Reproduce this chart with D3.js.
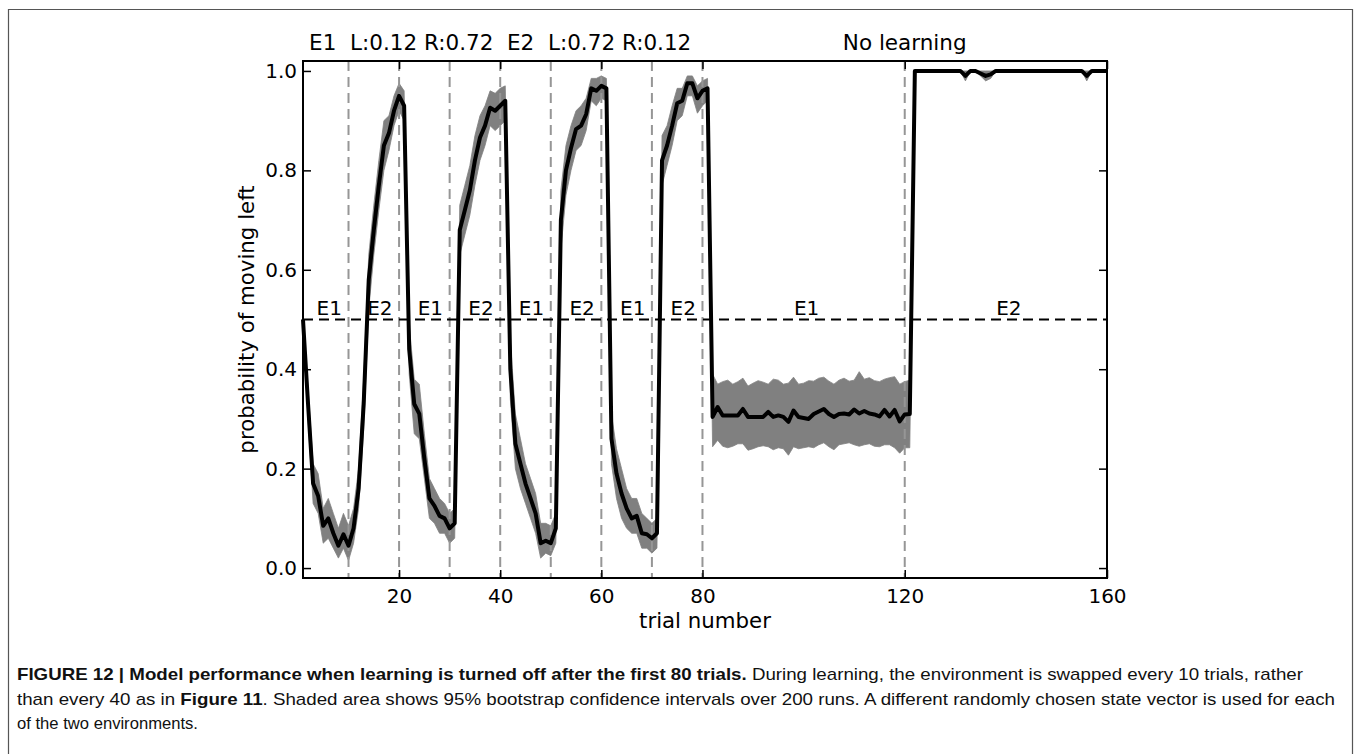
<!DOCTYPE html>
<html>
<head>
<meta charset="utf-8">
<script src="https://cdn.jsdelivr.net/npm/d3@7"></script>
<style>
  body { margin: 0; background: #fff; }
</style>
</head>
<body>
<svg width="1354" height="754"></svg>
<script>
// mean probability of moving left, trials 1..160
var meanP = [
  0.50, 0.33, 0.17, 0.145, 0.085, 0.10, 0.07, 0.045, 0.068, 0.045,
  0.08, 0.16, 0.33, 0.58, 0.68, 0.77, 0.85, 0.875, 0.92, 0.95,
  0.93, 0.44, 0.33, 0.31, 0.22, 0.14, 0.125, 0.105, 0.10, 0.08,
  0.09, 0.68, 0.72, 0.76, 0.82, 0.866, 0.89, 0.926, 0.92, 0.93,
  0.94, 0.40, 0.25, 0.21, 0.17, 0.14, 0.11, 0.05, 0.055, 0.05,
  0.08, 0.70, 0.80, 0.845, 0.883, 0.89, 0.913, 0.965, 0.96, 0.97,
  0.965, 0.26, 0.19, 0.15, 0.12, 0.10, 0.105, 0.07, 0.068, 0.06,
  0.07, 0.82, 0.85, 0.89, 0.935, 0.94, 0.975, 0.975, 0.945, 0.96,
  0.965, 0.304, 0.324, 0.307, 0.307, 0.307, 0.307, 0.32, 0.304, 0.304,
  0.304, 0.304, 0.314, 0.304, 0.307, 0.304, 0.294, 0.317, 0.304, 0.302,
  0.300, 0.310, 0.315, 0.320, 0.310, 0.304, 0.310, 0.311, 0.309, 0.319,
  0.311, 0.316, 0.311, 0.309, 0.305, 0.318, 0.305, 0.318, 0.295, 0.309,
  0.310, 1, 1, 1, 1, 1, 1, 1, 1, 1,
  1, 0.99, 1, 1, 0.995, 0.99, 0.993, 1, 1, 1,
  1, 1, 1, 1, 1, 1, 1, 1, 1, 1,
  1, 1, 1, 1, 1, 0.99, 1, 1, 1, 1
];

// lower edge of the 95% bootstrap interval
var loP = [
  0.49, 0.30, 0.13, 0.11, 0.05, 0.06, 0.04, 0.02, 0.04, 0.015,
  0.05, 0.12, 0.28, 0.52, 0.63, 0.72, 0.80, 0.84, 0.89, 0.92,
  0.90, 0.39, 0.27, 0.26, 0.18, 0.10, 0.09, 0.07, 0.07, 0.05,
  0.06, 0.63, 0.67, 0.71, 0.77, 0.82, 0.85, 0.89, 0.88, 0.89,
  0.90, 0.34, 0.20, 0.16, 0.13, 0.10, 0.07, 0.02, 0.03, 0.025,
  0.05, 0.64, 0.75, 0.80, 0.84, 0.85, 0.88, 0.94, 0.93, 0.945,
  0.94, 0.21, 0.14, 0.10, 0.08, 0.07, 0.07, 0.04, 0.04, 0.03,
  0.04, 0.77, 0.81, 0.85, 0.90, 0.91, 0.95, 0.95, 0.915, 0.93,
  0.94, 0.244, 0.257, 0.245, 0.242, 0.245, 0.25, 0.25, 0.237, 0.24,
  0.244, 0.246, 0.244, 0.238, 0.242, 0.24, 0.227, 0.244, 0.24, 0.242,
  0.244, 0.242, 0.248, 0.252, 0.244, 0.238, 0.248, 0.25, 0.252, 0.248,
  0.245, 0.248, 0.25, 0.245, 0.244, 0.248, 0.248, 0.242, 0.231, 0.242,
  0.242, 1, 1, 1, 1, 1, 1, 1, 1, 1,
  1, 0.98, 1, 1, 0.99, 0.98, 0.985, 1, 1, 1,
  1, 1, 1, 1, 1, 1, 1, 1, 1, 1,
  1, 1, 1, 1, 1, 0.98, 1, 1, 1, 1
];

// upper edge of the 95% bootstrap interval
var hiP = [
  0.51, 0.36, 0.21, 0.19, 0.12, 0.14, 0.11, 0.08, 0.11, 0.085,
  0.12, 0.20, 0.38, 0.63, 0.73, 0.82, 0.90, 0.91, 0.95, 0.975,
  0.96, 0.49, 0.38, 0.37, 0.27, 0.18, 0.16, 0.14, 0.13, 0.11,
  0.12, 0.73, 0.77, 0.81, 0.87, 0.91, 0.93, 0.96, 0.955, 0.965,
  0.97, 0.46, 0.31, 0.26, 0.21, 0.18, 0.15, 0.09, 0.09, 0.085,
  0.11, 0.76, 0.85, 0.89, 0.92, 0.93, 0.945, 0.985, 0.985, 0.99,
  0.985, 0.31, 0.24, 0.20, 0.16, 0.14, 0.14, 0.11, 0.10, 0.09,
  0.10, 0.87, 0.89, 0.93, 0.965, 0.965, 0.99, 0.99, 0.97, 0.98,
  0.985, 0.39, 0.37, 0.375, 0.378, 0.37, 0.375, 0.382, 0.366, 0.372,
  0.377, 0.374, 0.37, 0.38, 0.378, 0.37, 0.372, 0.384, 0.37, 0.372,
  0.377, 0.376, 0.382, 0.384, 0.376, 0.37, 0.378, 0.382, 0.376, 0.378,
  0.395, 0.38, 0.383, 0.377, 0.375, 0.38, 0.383, 0.385, 0.37, 0.375,
  0.378, 1, 1, 1, 1, 1, 1, 1, 1, 1,
  1, 1, 1, 1, 1, 1, 1, 1, 1, 1,
  1, 1, 1, 1, 1, 1, 1, 1, 1, 1,
  1, 1, 1, 1, 1, 1, 1, 1, 1, 1
];

// environment switches and their labels
var switchTrials = [10, 20, 30, 40, 50, 60, 70, 80, 120];
var envNames   = ["E1", "E2", "E1", "E2", "E1", "E2", "E1", "E2", "E1", "E2"];
var envLabelAt = [6.2, 16.2, 26.2, 36.2, 46.2, 56.2, 66.2, 76.2, 100.6, 140.6];
var chanceLevel = 0.5;

var xTicks = [20, 40, 60, 80, 120, 160];
var yTicks = [0.0, 0.2, 0.4, 0.6, 0.8, 1.0];

var phaseTitles = ["E1  L:0.12 R:0.72  E2  L:0.72 R:0.12", "No learning"];
var phaseTitleAt = [40, 120];

var xLabel = "trial number";
var yLabel = "probability of moving left";

// caption: each line is a list of [text, bold]
var captionLines = [
  [["FIGURE 12 | Model performance when learning is turned off after the first 80 trials.", true],
   [" During learning, the environment is swapped every 10 trials, rather", false]],
  [["than every 40 as in ", false], ["Figure 11", true],
   [". Shaded area shows 95% bootstrap confidence intervals over 200 runs. A different randomly chosen state vector is used for each", false]],
  [["of the two environments.", false]]
];

function drawFigure() {
    var svg = d3.select("svg");

    // plot box
    var left = 303, right = 1107, top = 61, bottom = 578;
    var font = "'DejaVu Sans', sans-serif";

    var x = d3.scaleLinear().domain([1, 160]).range([left, right]);
    var y = d3.scaleLinear().domain([-0.02, 1.02]).range([bottom, top]);

    var trials = d3.range(1, meanP.length + 1);

    // page frame (open at the bottom)
    svg.append("path")
        .attr("d", "M8.5,754 V9.5 H1352.5 V754")
        .attr("fill", "none").attr("stroke", "#555").attr("stroke-width", 1.2);

    // confidence band
    var band = d3.area()
        .x(function(d, i) { return x(trials[i]); })
        .y0(function(d, i) { return y(loP[i]); })
        .y1(function(d, i) { return y(hiP[i]); });
    svg.append("path").datum(meanP)
        .attr("d", band)
        .attr("fill", "#808080")
        .attr("stroke", "#808080").attr("stroke-width", 0.8);

    // environment switch markers
    svg.append("g").selectAll("line")
        .data(switchTrials).enter()
        .append("line")
        .attr("x1", d => x(d)).attr("x2", d => x(d))
        .attr("y1", top).attr("y2", bottom)
        .attr("stroke", "#969696").attr("stroke-width", 2)
        .attr("stroke-dasharray", "10,6");

    // chance line
    svg.append("line")
        .attr("x1", left).attr("x2", right)
        .attr("y1", y(chanceLevel)).attr("y2", y(chanceLevel))
        .attr("stroke", "#000").attr("stroke-width", 2)
        .attr("stroke-dasharray", "10,6");

    // mean curve
    var line = d3.line()
        .x(function(d, i) { return x(trials[i]); })
        .y(function(d) { return y(d); });
    svg.append("path").datum(meanP)
        .attr("d", line)
        .attr("fill", "none")
        .attr("stroke", "#000").attr("stroke-width", 4)
        .attr("stroke-linejoin", "round");

    // E1 / E2 labels sitting on the chance line
    svg.append("g").selectAll("text")
        .data(envNames).enter()
        .append("text")
        .attr("x", (d, i) => x(envLabelAt[i]))
        .attr("y", y(chanceLevel) - 4.5)
        .attr("text-anchor", "middle")
        .attr("font-family", font).attr("font-size", 20)
        .text(d => d);

    // phase titles above the axes
    svg.append("g").selectAll("text")
        .data(phaseTitles).enter()
        .append("text")
        .attr("x", (d, i) => x(phaseTitleAt[i]))
        .attr("y", 50)
        .attr("text-anchor", "middle")
        .attr("font-family", font).attr("font-size", 21.5)
        .style("white-space", "pre")
        .text(d => d);

    // axes, ticks pointing inward on all four sides
    var styleAxis = function(g) {
        g.select(".domain").remove();
        g.attr("font-family", font).attr("font-size", 20);
        g.selectAll(".tick line").attr("stroke", "#000").attr("stroke-width", 1.5);
        g.selectAll(".tick text").attr("fill", "#000");
    };
    svg.append("g").attr("transform", "translate(0," + bottom + ")")
        .call(d3.axisBottom(x).tickValues(xTicks).tickSize(-8).tickPadding(10.5))
        .call(styleAxis);
    svg.append("g").attr("transform", "translate(0," + top + ")")
        .call(d3.axisTop(x).tickValues(xTicks).tickSize(-8).tickFormat(""))
        .call(styleAxis);
    svg.append("g").attr("transform", "translate(" + left + ",0)")
        .call(d3.axisLeft(y).tickValues(yTicks).tickSize(-8).tickPadding(6)
              .tickFormat(d3.format(".1f")))
        .call(styleAxis);
    svg.append("g").attr("transform", "translate(" + right + ",0)")
        .call(d3.axisRight(y).tickValues(yTicks).tickSize(-8).tickFormat(""))
        .call(styleAxis);

    // spines
    svg.append("rect")
        .attr("x", left).attr("y", top)
        .attr("width", right - left).attr("height", bottom - top)
        .attr("fill", "none").attr("stroke", "#000").attr("stroke-width", 2);

    // axis labels
    svg.append("text")
        .attr("x", (left + right) / 2).attr("y", 628)
        .attr("text-anchor", "middle")
        .attr("font-family", font).attr("font-size", 21.3)
        .text(xLabel);
    svg.append("text")
        .attr("transform", "translate(254," + (top + bottom) / 2 + ") rotate(-90)")
        .attr("text-anchor", "middle")
        .attr("font-family", font).attr("font-size", 21.3)
        .text(yLabel);

    // caption
    var capY = [680, 704.5, 729];
    var capLen = [1286, 1318, 181];
    captionLines.forEach(function(parts, k) {
        var t = svg.append("text")
            .attr("x", 17).attr("y", capY[k])
            .attr("font-family", "'Liberation Sans', Arial, sans-serif")
            .attr("font-size", 17)
            .attr("fill", "#111")
            .attr("textLength", capLen[k])
            .attr("lengthAdjust", "spacingAndGlyphs");
        parts.forEach(function(p) {
            t.append("tspan")
                .attr("font-weight", p[1] ? "bold" : "normal")
                .style("white-space", "pre")
                .text(p[0]);
        });
    });
}

drawFigure();
</script>
</body>
</html>
